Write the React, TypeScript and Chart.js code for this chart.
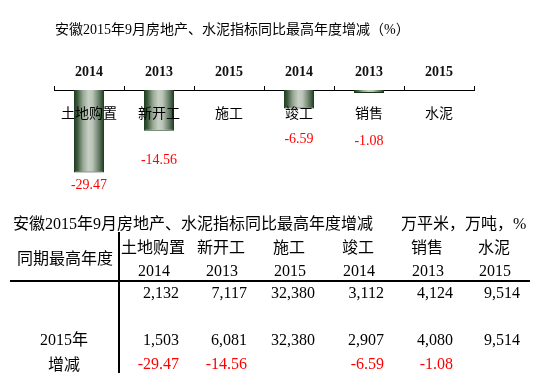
import React, { useEffect, useRef } from 'react';
import { Chart, registerables } from 'chart.js';

Chart.register(...registerables);

// ---------- data ----------
const categories = ['土地购置', '新开工', '施工', '竣工', '销售', '水泥'];
const peakYears = ['2014', '2013', '2015', '2014', '2013', '2015'];
const peakValues = [2132, 7117, 32380, 3112, 4124, 9514];
const values2015 = [1503, 6081, 32380, 2907, 4080, 9514];
const changes: (number | null)[] = [-29.47, -14.56, null, -6.59, -1.08, null];

const chartTitle = '安徽2015年9月房地产、水泥指标同比最高年度增减（%）';
const tableTitle = '安徽2015年9月房地产、水泥指标同比最高年度增减';
const unitText = '万平米，万吨，%';
const rowHeader = '同期最高年度';
const row2Label = '2015年';
const row3Label = '增减';

// ---------- styles ----------
const SERIF = '"Liberation Serif", "Times New Roman", serif';
const CJK = '"Noto Sans CJK SC", "Noto Sans", sans-serif';
const MIXED = '"Liberation Serif", "Noto Sans CJK SC", serif';
const labelOffsets = [13, 30, 0, 31, 48, 0]; // px below bar end for red value labels
const BAR_FRACTION = 0.43;

const barFill = (ctx: any) => {
  const chart = ctx.chart;
  const xs = chart.scales && chart.scales.x;
  if (!xs || !chart.chartArea || ctx.dataIndex === undefined) return '#8a9a88';
  const cx = xs.getPixelForValue(ctx.dataIndex);
  const w = (xs.width / categories.length) * BAR_FRACTION;
  const g = chart.ctx.createLinearGradient(cx - w / 2, 0, cx + w / 2, 0);
  g.addColorStop(0, '#1c3a1c');
  g.addColorStop(0.12, '#3f5b3f');
  g.addColorStop(0.3, '#98a895');
  g.addColorStop(0.48, '#c6cfc4');
  g.addColorStop(0.62, '#b9c4b7');
  g.addColorStop(0.82, '#6a806a');
  g.addColorStop(1, '#1c3a1c');
  return g;
};

const labelPlugin = {
  id: 'customLabels',
  afterDatasetsDraw(chart: any) {
    const c = chart.ctx;
    const xs = chart.scales.x;
    const ys = chart.scales.y;
    const top = chart.chartArea.top;
    c.save();
    c.textAlign = 'center';
    c.textBaseline = 'middle';
    // category names under the axis
    c.fillStyle = '#000';
    c.font = `14px ${CJK}`;
    categories.forEach((name, i) => {
      c.fillText(name, xs.getPixelForValue(i), top + 23);
    });
    // red value labels
    c.fillStyle = '#ff0000';
    c.font = `14px ${SERIF}`;
    changes.forEach((v, i) => {
      if (v === null) return;
      const y = ys.getPixelForValue(v) + labelOffsets[i];
      c.fillText(v.toFixed(2), xs.getPixelForValue(i), y);
    });
    c.restore();
  },
};

type TProps = {
  x: number;
  y: number;
  text: string;
  align?: 'left' | 'center' | 'right';
  size?: number;
  color?: string;
  family?: string;
};

const T = ({ x, y, text, align = 'left', size = 16, color = '#000', family = MIXED }: TProps) => {
  const W = 400;
  const LH = 24;
  let left = x;
  if (align === 'center') left = x - W / 2;
  if (align === 'right') left = x - W;
  return (
    <div
      style={{
        position: 'absolute',
        left,
        top: y - LH / 2,
        width: W,
        height: LH,
        lineHeight: `${LH}px`,
        fontSize: size,
        fontFamily: family,
        color,
        textAlign: align,
        whiteSpace: 'nowrap',
      }}
    >
      {text}
    </div>
  );
};

const fmt = (n: number) => n.toLocaleString('en-US');

const nameCenters = [153, 221, 289, 358, 427, 494];
const numRights = [179, 247, 315, 384, 453, 520];

export default function App() {
  const ref = useRef<HTMLCanvasElement>(null);

  useEffect(() => {
    const canvas = ref.current;
    if (!canvas) return;
    const chart = new Chart(canvas, {
      type: 'bar',
      data: {
        labels: categories,
        datasets: [
          {
            data: changes as any,
            backgroundColor: barFill as any,
            borderColor: '#173617',
            borderWidth: 1,
            barPercentage: BAR_FRACTION,
            categoryPercentage: 1,
          },
        ],
      },
      options: {
        animation: false,
        responsive: false,
        maintainAspectRatio: false,
        layout: { padding: { left: 54, right: 61, top: 0, bottom: 184 } },
        plugins: {
          legend: { display: false },
          tooltip: { enabled: false },
          title: { display: false },
        },
        scales: {
          x: {
            position: 'top',
            afterFit: (s: any) => {
              s.height = 90;
            },
            border: { display: true, color: '#000', width: 1 },
            grid: {
              display: true,
              drawOnChartArea: false,
              drawTicks: true,
              tickLength: 4,
              color: '#000',
              offset: true,
            },
            ticks: {
              callback: (_v: any, i: number) => peakYears[i],
              font: { family: SERIF, size: 14, weight: 'bold' },
              color: '#111',
              padding: 5,
              maxRotation: 0,
              autoSkip: false,
            },
          },
          y: { display: false, min: -40, max: 0 },
        },
      } as any,
      plugins: [labelPlugin],
    });
    return () => chart.destroy();
  }, []);

  return (
    <div
      style={{
        position: 'absolute',
        left: 0,
        top: 0,
        width: 535,
        height: 386,
        background: '#fff',
        overflow: 'hidden',
      }}
    >
      <canvas ref={ref} width={535} height={386} style={{ position: 'absolute', left: 0, top: 0 }} />
      <T x={55} y={30} text={chartTitle} size={14} />

      {/* table */}
      <T x={13} y={224} text={tableTitle} />
      <T x={401} y={224} text={unitText} />
      <T x={17} y={259} text={rowHeader} />
      {categories.map((c, i) => (
        <T key={'c' + i} x={nameCenters[i]} y={248} text={c} align="center" />
      ))}
      {peakYears.map((yv, i) => (
        <T key={'y' + i} x={nameCenters[i] + 1} y={271} text={yv} align="center" family={SERIF} />
      ))}
      {peakValues.map((v, i) => (
        <T key={'p' + i} x={numRights[i]} y={293} text={fmt(v)} align="right" family={SERIF} />
      ))}
      <T x={64} y={340} text={row2Label} align="center" />
      {values2015.map((v, i) => (
        <T key={'v' + i} x={numRights[i]} y={340} text={fmt(v)} align="right" family={SERIF} />
      ))}
      <T x={64} y={365} text={row3Label} align="center" />
      {changes.map((v, i) =>
        v === null ? null : (
          <T key={'d' + i} x={numRights[i]} y={364} text={v.toFixed(2)} align="right" color="#ff0000" family={SERIF} />
        )
      )}
      <div style={{ position: 'absolute', left: 10, top: 280, width: 520, height: 2, background: '#000' }} />
      <div style={{ position: 'absolute', left: 118, top: 232, width: 2, height: 141, background: '#000' }} />
    </div>
  );
}
